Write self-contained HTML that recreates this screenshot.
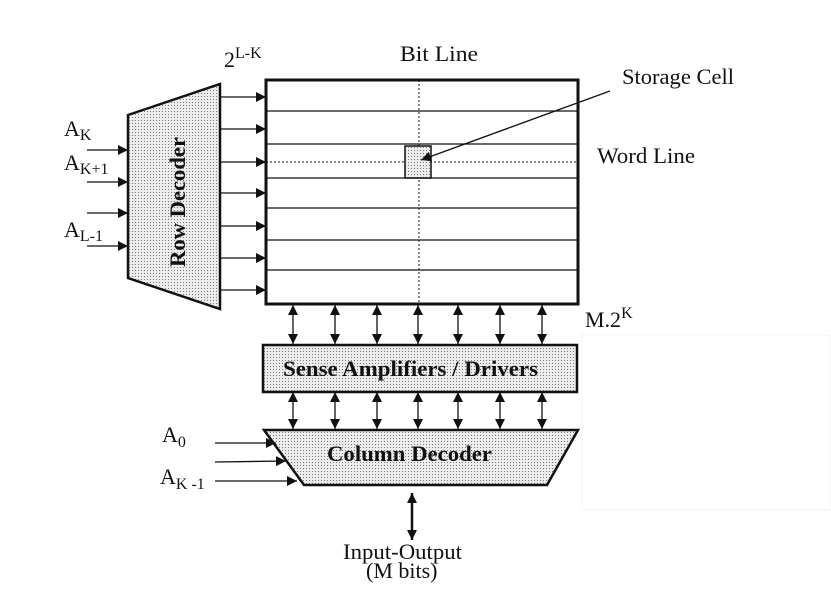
<!DOCTYPE html>
<html><head><meta charset="utf-8"><style>
html,body{margin:0;padding:0;background:#fff;width:831px;height:604px;overflow:hidden}
svg{display:block}
text{font-family:"Liberation Serif",serif;fill:#111}
</style></head><body>
<svg width="831" height="604" viewBox="0 0 831 604" xmlns="http://www.w3.org/2000/svg">
<defs>
<pattern id="dots" width="3" height="3" patternUnits="userSpaceOnUse">
<rect width="3" height="3" fill="#ececec"/><rect width="1" height="1" fill="#777"/>
</pattern>
<marker id="ah" viewBox="0 0 10 10" refX="10" refY="5" markerWidth="10" markerHeight="10" markerUnits="userSpaceOnUse" orient="auto-start-reverse">
<path d="M0,0 L10,5 L0,10 z" fill="#111"/>
</marker>
</defs>
<rect x="582" y="335" width="249" height="175" fill="none" stroke="#f3f3f3"/>
<!-- Row decoder -->
<polygon points="128,115 220,84 220,309 128,278" fill="url(#dots)" stroke="#111" stroke-width="2.5"/>
<text transform="translate(180,202) rotate(-90)" text-anchor="middle" font-size="22" font-weight="bold" dominant-baseline="middle" textLength="130" lengthAdjust="spacingAndGlyphs">Row Decoder</text>
<!-- inputs -->
<g stroke="#111" stroke-width="1.3">
<line x1="87" y1="150" x2="128" y2="150" marker-end="url(#ah)"/>
<line x1="87" y1="182" x2="128" y2="182" marker-end="url(#ah)"/>
<line x1="87" y1="213" x2="128" y2="213" marker-end="url(#ah)"/>
<line x1="87" y1="246" x2="128" y2="246" marker-end="url(#ah)"/>
</g>
<text x="64" y="136" font-size="22">A<tspan font-size="16" dy="4">K</tspan></text>
<text x="64" y="170" font-size="22">A<tspan font-size="16" dy="4">K+1</tspan></text>
<text x="64" y="237" font-size="22">A<tspan font-size="16" dy="4">L-1</tspan></text>
<text x="224" y="67" font-size="22">2<tspan font-size="16" dy="-9">L-K</tspan></text>
<!-- decoder outputs -->
<g stroke="#111" stroke-width="1.3">
<line x1="221" y1="97" x2="266" y2="97" marker-end="url(#ah)"/>
<line x1="221" y1="129" x2="266" y2="129" marker-end="url(#ah)"/>
<line x1="221" y1="162" x2="266" y2="162" marker-end="url(#ah)"/>
<line x1="221" y1="193" x2="266" y2="193" marker-end="url(#ah)"/>
<line x1="221" y1="226" x2="266" y2="226" marker-end="url(#ah)"/>
<line x1="221" y1="258" x2="266" y2="258" marker-end="url(#ah)"/>
<line x1="221" y1="290" x2="266" y2="290" marker-end="url(#ah)"/>
</g>
<!-- array -->
<g stroke="#111" stroke-width="1.3">
<line x1="266" y1="111" x2="578" y2="111"/>
<line x1="266" y1="144" x2="578" y2="144"/>
<line x1="266" y1="178" x2="578" y2="178"/>
<line x1="266" y1="208" x2="578" y2="208"/>
<line x1="266" y1="240" x2="578" y2="240"/>
<line x1="266" y1="270" x2="578" y2="270"/>
</g>
<line x1="266" y1="162" x2="578" y2="162" stroke="#111" stroke-width="1" stroke-dasharray="2,2"/>
<line x1="419" y1="80" x2="419" y2="304" stroke="#111" stroke-width="1" stroke-dasharray="2,2"/>
<rect x="405" y="146" width="26" height="32" fill="url(#dots)" stroke="#111" stroke-width="1.5"/>
<rect x="266" y="80" width="312" height="224" fill="none" stroke="#111" stroke-width="3"/>
<line x1="610" y1="91" x2="421" y2="160" stroke="#111" stroke-width="1.3" marker-end="url(#ah)"/>
<text x="400" y="61" font-size="22" textLength="78" lengthAdjust="spacingAndGlyphs">Bit Line</text>
<text x="622" y="84" font-size="22" textLength="112" lengthAdjust="spacingAndGlyphs">Storage Cell</text>
<text x="597" y="163" font-size="22" textLength="98" lengthAdjust="spacingAndGlyphs">Word Line</text>
<text x="585" y="327" font-size="22">M.2<tspan font-size="16" dy="-9">K</tspan></text>
<!-- bidir arrows -->
<g stroke="#111" stroke-width="1.3">
<line x1="293" y1="305" x2="293" y2="344" marker-start="url(#ah)" marker-end="url(#ah)"/>
<line x1="335" y1="305" x2="335" y2="344" marker-start="url(#ah)" marker-end="url(#ah)"/>
<line x1="377" y1="305" x2="377" y2="344" marker-start="url(#ah)" marker-end="url(#ah)"/>
<line x1="418" y1="305" x2="418" y2="344" marker-start="url(#ah)" marker-end="url(#ah)"/>
<line x1="458" y1="305" x2="458" y2="344" marker-start="url(#ah)" marker-end="url(#ah)"/>
<line x1="500" y1="305" x2="500" y2="344" marker-start="url(#ah)" marker-end="url(#ah)"/>
<line x1="542" y1="305" x2="542" y2="344" marker-start="url(#ah)" marker-end="url(#ah)"/>
<line x1="293" y1="392" x2="293" y2="429" marker-start="url(#ah)" marker-end="url(#ah)"/>
<line x1="335" y1="392" x2="335" y2="429" marker-start="url(#ah)" marker-end="url(#ah)"/>
<line x1="377" y1="392" x2="377" y2="429" marker-start="url(#ah)" marker-end="url(#ah)"/>
<line x1="418" y1="392" x2="418" y2="429" marker-start="url(#ah)" marker-end="url(#ah)"/>
<line x1="458" y1="392" x2="458" y2="429" marker-start="url(#ah)" marker-end="url(#ah)"/>
<line x1="500" y1="392" x2="500" y2="429" marker-start="url(#ah)" marker-end="url(#ah)"/>
<line x1="542" y1="392" x2="542" y2="429" marker-start="url(#ah)" marker-end="url(#ah)"/>
</g>
<rect x="263" y="345" width="314" height="47" fill="url(#dots)" stroke="#111" stroke-width="2.5"/>
<text x="283" y="376" font-size="22" font-weight="bold" textLength="255" lengthAdjust="spacingAndGlyphs">Sense Amplifiers / Drivers</text>
<!-- column decoder -->
<polygon points="264,430 578,430 547,485 304,485" fill="url(#dots)" stroke="#111" stroke-width="2.5"/>
<text x="327" y="461" font-size="22" font-weight="bold" textLength="165" lengthAdjust="spacingAndGlyphs">Column Decoder</text>
<g stroke="#111" stroke-width="1.3">
<line x1="215" y1="443" x2="276" y2="443" marker-end="url(#ah)"/>
<line x1="215" y1="462" x2="286" y2="461" marker-end="url(#ah)"/>
<line x1="215" y1="481" x2="297" y2="481" marker-end="url(#ah)"/>
</g>
<text x="162" y="442" font-size="22">A<tspan font-size="16" dy="5">0</tspan></text>
<text x="160" y="484" font-size="22">A<tspan font-size="16" dy="5">K -1</tspan></text>
<line x1="412" y1="493" x2="412" y2="540" stroke="#111" stroke-width="2.5" marker-start="url(#ah)" marker-end="url(#ah)"/>
<text x="343" y="559" font-size="22" textLength="119" lengthAdjust="spacingAndGlyphs">Input-Output</text>
<text x="366" y="578" font-size="22">(M bits)</text>
</svg>
</body></html>
